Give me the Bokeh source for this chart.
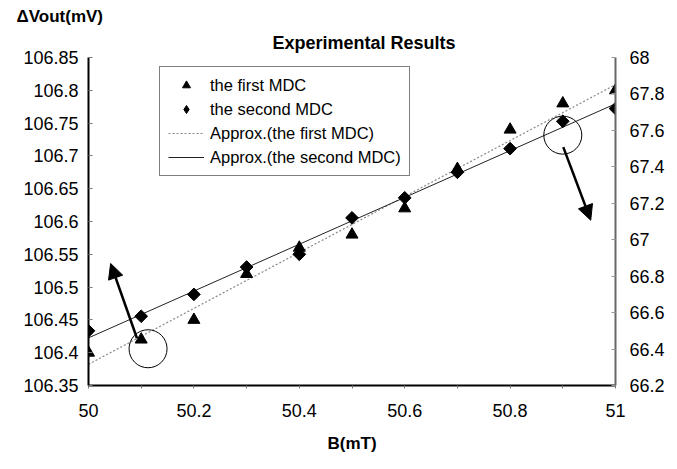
import numpy as np
from bokeh.plotting import figure
from bokeh.models import (Range1d, LinearAxis, FixedTicker, Legend, LegendItem,
                          Arrow, NormalHead, Title)
from bokeh.embed import file_html
from bokeh.resources import INLINE

# ---- data ----
b_mT = [50.0, 50.1, 50.2, 50.3, 50.4, 50.5, 50.6, 50.7, 50.8, 50.9, 51.0]
first_mdc = [106.40, 106.42, 106.45, 106.52, 106.56, 106.58, 106.62, 106.68, 106.74, 106.78, 106.80]
second_mdc = [66.50, 66.58, 66.70, 66.85, 66.92, 67.12, 67.23, 67.37, 67.50, 67.65, 67.72]

x_major = [50.0, 50.2, 50.4, 50.6, 50.8, 51.0]
x_minor = [50.1, 50.3, 50.5, 50.7, 50.9]
x_labels = ["50", "50.2", "50.4", "50.6", "50.8", "51"]
left_ticks = [106.35, 106.4, 106.45, 106.5, 106.55, 106.6, 106.65, 106.7, 106.75, 106.8, 106.85]
left_labels = ["106.35", "106.4", "106.45", "106.5", "106.55", "106.6", "106.65", "106.7", "106.75", "106.8", "106.85"]
right_ticks = [66.2, 66.4, 66.6, 66.8, 67.0, 67.2, 67.4, 67.6, 67.8, 68.0]
right_labels = ["66.2", "66.4", "66.6", "66.8", "67", "67.2", "67.4", "67.6", "67.8", "68"]

# annotation marks (data coordinates)
circle1 = (50.113, 106.406)
circle2 = (50.90, 67.574)
arrow1 = (50.092, 106.422, 50.042, 106.536)
arrow2 = (50.901, 67.508, 50.953, 67.107)

FONT = "Liberation Sans"

p = figure(width=669, height=461, output_backend="svg", toolbar_location=None,
           x_range=Range1d(50, 51), y_range=Range1d(106.35, 106.85),
           min_border_left=88, min_border_right=54, min_border_top=57, min_border_bottom=76,
           x_axis_location=None, y_axis_location=None)
p.extra_y_ranges = {"right": Range1d(66.2, 68.0)}
p.outline_line_color = None
p.xgrid.visible = False
p.ygrid.visible = False
p.background_fill_color = "white"
p.border_fill_color = "white"

# titles: outer one is the y-quantity label, inner one the chart title
p.title.text = "ΔVout(mV)"
p.title.align = "left"
p.title.offset = -72
p.title.text_font = FONT
p.title.text_font_size = "17px"
p.title.text_font_style = "bold"
p.title.text_color = "black"
p.title.standoff = 0

main_title = Title(text="Experimental Results", align="left", offset=184,
                   text_font=FONT, text_font_size="18px", text_font_style="bold",
                   text_color="black", standoff=10)
p.add_layout(main_title, "above")

# axes
xaxis = LinearAxis(ticker=FixedTicker(ticks=x_major, minor_ticks=x_minor))
xaxis.major_label_overrides = dict(zip(x_major, x_labels))
xaxis.axis_line_width = 2
xaxis.axis_line_color = "black"
xaxis.major_tick_in = 0
xaxis.major_tick_out = 3
xaxis.minor_tick_in = 0
xaxis.minor_tick_out = 3
xaxis.major_tick_line_color = "#777777"
xaxis.minor_tick_line_color = "#777777"
xaxis.major_label_text_font = FONT
xaxis.major_label_text_font_size = "18px"
xaxis.major_label_text_color = "black"
xaxis.major_label_standoff = 15
xaxis.axis_label = "B(mT)"
xaxis.axis_label_text_font = FONT
xaxis.axis_label_text_font_size = "17px"
xaxis.axis_label_text_font_style = "bold"
xaxis.axis_label_text_color = "black"
xaxis.axis_label_standoff = 14
p.add_layout(xaxis, "below")

laxis = LinearAxis(ticker=FixedTicker(ticks=left_ticks, minor_ticks=[]))
laxis.major_label_overrides = dict(zip(left_ticks, left_labels))
laxis.axis_line_width = 2
laxis.axis_line_color = "black"
laxis.major_tick_in = 4
laxis.major_tick_out = 0
laxis.minor_tick_line_color = None
laxis.major_tick_line_color = "#777777"
laxis.major_label_text_font = FONT
laxis.major_label_text_font_size = "18px"
laxis.major_label_text_color = "black"
laxis.major_label_standoff = 10
p.add_layout(laxis, "left")

raxis = LinearAxis(y_range_name="right", ticker=FixedTicker(ticks=right_ticks, minor_ticks=[]))
raxis.major_label_overrides = dict(zip(right_ticks, right_labels))
raxis.axis_line_width = 2
raxis.axis_line_color = "#666666"
raxis.major_tick_in = 4
raxis.major_tick_out = 0
raxis.minor_tick_line_color = None
raxis.major_tick_line_color = "#999999"
raxis.major_label_text_font = FONT
raxis.major_label_text_font_size = "18px"
raxis.major_label_text_color = "black"
raxis.major_label_standoff = 14
p.add_layout(raxis, "right")

# linear approximations (least-squares fits of the data)
xs = np.array(b_mT)
c1 = np.polyfit(xs, np.array(first_mdc), 1)
c2 = np.polyfit(xs, np.array(second_mdc), 1)
xfit = np.array([xs.min(), xs.max()])
l1 = p.line(xfit, np.polyval(c1, xfit), line_color="#888888", line_width=1.2, line_dash="2 2")
l2 = p.line(xfit, np.polyval(c2, xfit), line_color="#222222", line_width=1, y_range_name="right")

s1 = p.scatter(b_mT, first_mdc, marker="triangle", size=12, fill_color="black", line_color="black")
s2 = p.scatter(b_mT, second_mdc, marker="square", angle=np.pi / 4, size=9, fill_color="black",
               line_color="black", y_range_name="right")
# legend swatch for the diamonds (legend swatches ignore marker rotation)
s2_key = p.scatter(b_mT, second_mdc, marker="diamond", size=15, fill_color="black",
                   line_color="black", y_range_name="right", visible=False)

# circles and arrows
p.scatter([circle1[0]], [circle1[1]], marker="circle", size=38, fill_color=None,
          line_color="black", line_width=1)
p.scatter([circle2[0]], [circle2[1]], marker="circle", size=38, fill_color=None,
          line_color="black", line_width=1, y_range_name="right")
p.add_layout(Arrow(x_start=arrow1[0], y_start=arrow1[1], x_end=arrow1[2], y_end=arrow1[3],
                   line_width=2.5, line_color="black",
                   end=NormalHead(size=15, fill_color="black", line_color="black")))
p.add_layout(Arrow(x_start=arrow2[0], y_start=arrow2[1], x_end=arrow2[2], y_end=arrow2[3],
                   line_width=2.5, line_color="black", y_range_name="right",
                   end=NormalHead(size=15, fill_color="black", line_color="black")))

# legend
legend = Legend(items=[
    LegendItem(label="the first MDC", renderers=[s1]),
    LegendItem(label="the second MDC", renderers=[s2_key]),
    LegendItem(label="Approx.(the first MDC)", renderers=[l1]),
    LegendItem(label="Approx.(the second MDC)", renderers=[l2]),
], location=(71, 209))
legend.label_text_font = FONT
legend.label_text_font_size = "16.5px"
legend.label_text_color = "black"
legend.glyph_width = 36
legend.glyph_height = 20
legend.label_height = 20
legend.spacing = 4
legend.padding = 8
legend.label_standoff = 6
legend.border_line_color = "black"
legend.border_line_width = 1
legend.background_fill_color = "white"
legend.background_fill_alpha = 1
p.add_layout(legend, "center")

open("out.html", "w").write(file_html(p, INLINE))
